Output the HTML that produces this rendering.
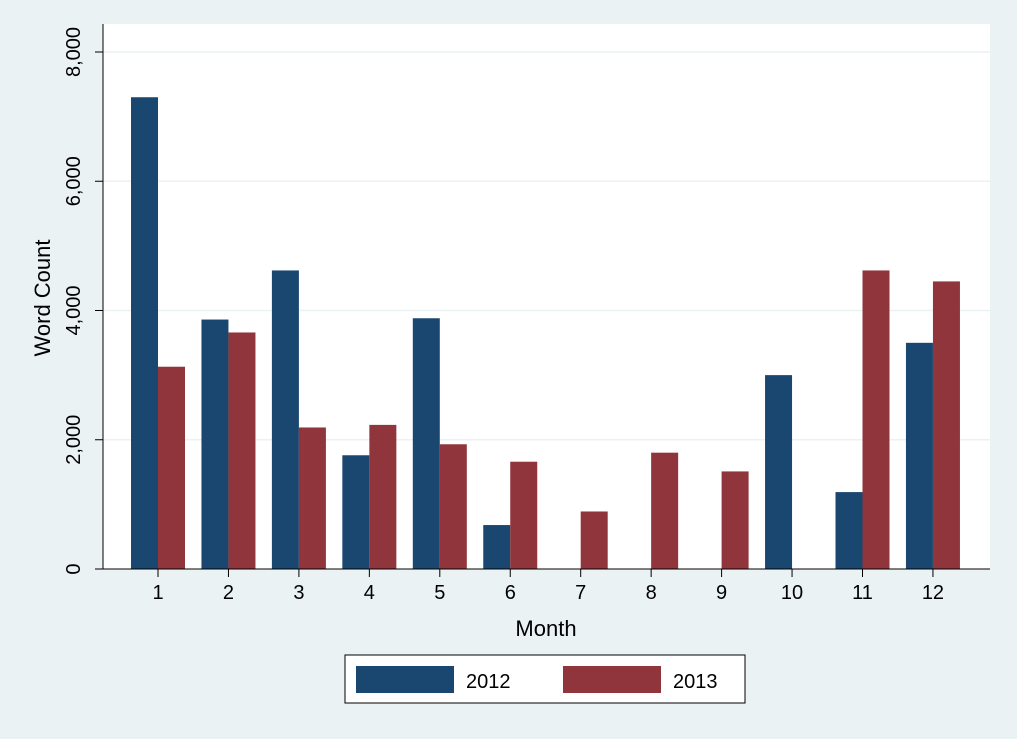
<!DOCTYPE html>
<html><head><meta charset="utf-8"><style>
html,body{margin:0;padding:0;background:#eaf2f3;}
svg{display:block;font-family:"Liberation Sans",Arial,sans-serif;}
</style></head><body>
<svg id="chart" width="1017" height="739" viewBox="0 0 1017 739" xmlns="http://www.w3.org/2000/svg">
<rect x="0" y="0" width="1017" height="739" fill="#eaf2f3"/>
<rect x="103" y="24" width="887" height="545" fill="#ffffff"/>
<g id="grid"></g>
<g id="bars"></g>
<g id="axes"></g>
<text transform="translate(50,298) rotate(-90)" text-anchor="middle" font-size="22" fill="#000">Word Count</text>
<text x="546" y="636" text-anchor="middle" font-size="22" fill="#000">Month</text>
<g>
<rect x="345" y="655" width="400" height="48" fill="#fff" stroke="#000" stroke-width="1"/>
<g>
<rect x="356" y="666" width="98" height="27" fill="#1a476f"/>
<text x="466" y="688" font-size="20">2012</text></g>
<g>
<rect x="563" y="666" width="98" height="27" fill="#90353b"/>
<text x="673" y="688" font-size="20">2013</text></g>
</g>
</svg>
<script>
const months = [1,2,3,4,5,6,7,8,9,10,11,12];
const values2012 = [7300,3860,4620,1760,3880,680,0,0,0,3000,1190,3500];
const values2013 = [3130,3660,2190,2230,1930,1660,890,1800,1510,0,4620,4450];
const yTicks = [0,2000,4000,6000,8000];
const yTickLabels = ["0","2,000","4,000","6,000","8,000"];
const NS="http://www.w3.org/2000/svg";
const y = v => 569 - v*(517/8000);
const x = m => 158 + (m-1)*70.45;
const barW = 27;
function mk(tag, attrs, parent){const e=document.createElementNS(NS,tag);for(const k in attrs)e.setAttribute(k,attrs[k]);parent.appendChild(e);return e;}
const grid=document.getElementById('grid'), bars=document.getElementById('bars'), axes=document.getElementById('axes');
yTicks.forEach((t,i)=>{
  if(t>0){const g=mk('line',{x1:103,x2:990,y1:y(t),y2:y(t),stroke:'#eaf2f3','stroke-width':1.5},grid);
  
  }
  const tk=mk('line',{x1:95,x2:103,y1:y(t),y2:y(t),stroke:'#000','stroke-width':1},axes);
  
  
  const tx=mk('text',{transform:`translate(80,${y(t)}) rotate(-90)`,'text-anchor':'middle','font-size':20},axes);
  tx.textContent=yTickLabels[i];
  
  
});
months.forEach((m,i)=>{
  const b1=mk('rect',{x:x(m)-barW,y:y(values2012[i]),width:barW,height:569-y(values2012[i]),fill:'#1a476f'},bars);
  
  
  const b2=mk('rect',{x:x(m),y:y(values2013[i]),width:barW,height:569-y(values2013[i]),fill:'#90353b'},bars);
  
  
  const tk=mk('line',{x1:x(m),x2:x(m),y1:569,y2:577,stroke:'#000','stroke-width':1},axes);
  
  
  const tx=mk('text',{x:x(m),y:599,'text-anchor':'middle','font-size':20},axes);
  tx.textContent=String(m);
  
  
});
const ya=mk('line',{x1:103,x2:103,y1:24,y2:569,stroke:'#000','stroke-width':1},axes);


const xa=mk('line',{x1:103,x2:990,y1:569,y2:569,stroke:'#000','stroke-width':1},axes);


</script>
</body></html>
